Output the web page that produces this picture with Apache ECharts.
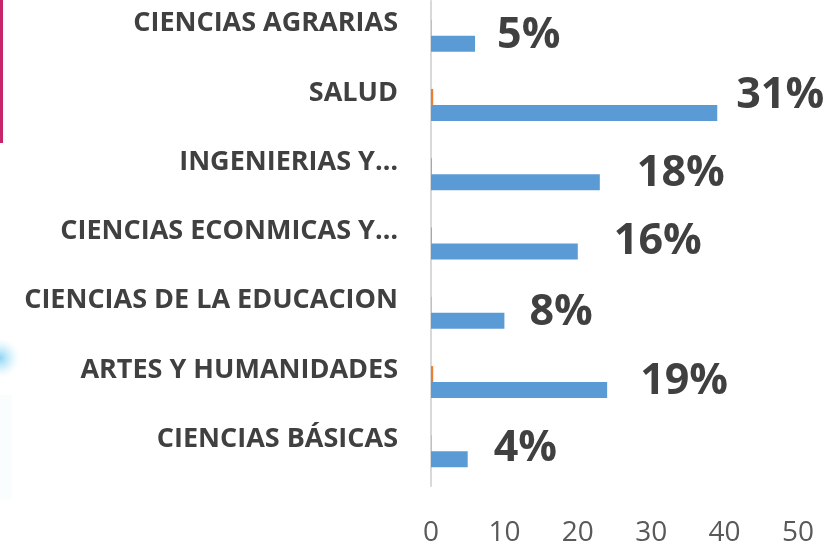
<!DOCTYPE html>
<html>
<head>
<meta charset="utf-8">
<script src="https://cdn.jsdelivr.net/npm/echarts@6/dist/echarts.min.js"></script>
<style>
html,body{margin:0;padding:0;background:#fff;}
#chart{width:838px;height:547px;}
</style>
</head>
<body>
<div id="chart"></div>
<script>
// ---- data ----
var categories = ['CIENCIAS AGRARIAS', 'SALUD', 'INGENIERIAS Y…', 'CIENCIAS ECONMICAS Y…', 'CIENCIAS DE LA EDUCACION', 'ARTES Y HUMANIDADES', 'CIENCIAS BÁSICAS'];
var blueValues = [6, 39, 23, 20, 10, 24, 5];
var orangeValues = [0.05, 0.3, 0.1, 0.1, 0.05, 0.3, 0.05];
var pctLabels = ['5%', '31%', '18%', '16%', '8%', '19%', '4%'];
var xTicks = [0, 10, 20, 30, 40, 50];

// ---- layout nudges for the percentage labels (px) ----
var labelGapX = [22, 19, 37, 36, 25, 33, 26];
var labelShiftY = [0, -9, 0, -2, 0, 0, -3];

var chart = echarts.init(document.getElementById('chart'), null, {renderer: 'canvas'});

var blueData = blueValues.map(function (v, i) {
  return {
    value: v,
    label: {
      show: true,
      position: 'right',
      distance: 0,
      offset: [labelGapX[i], labelShiftY[i] - 8],
      formatter: function () { return pctLabels[i]; }
    }
  };
});

var option = {
  animation: false,
  backgroundColor: '#ffffff',
  grid: {left: 431, right: 40, top: 1, bottom: 53, containLabel: false},
  xAxis: {
    type: 'value',
    min: xTicks[0],
    max: xTicks[xTicks.length - 1],
    interval: 10,
    axisLine: {show: false},
    axisTick: {show: false},
    splitLine: {show: false},
    axisLabel: {
      margin: 33,
      fontSize: 28,
      color: '#595959',
      fontFamily: 'Open Sans'
    }
  },
  yAxis: {
    type: 'category',
    inverse: true,
    data: categories,
    axisLine: {show: true, lineStyle: {color: '#D9D9D9', width: 2}},
    axisTick: {show: false},
    axisLabel: {
      margin: 33,
      fontSize: 27,
      fontWeight: 'bold',
      color: '#404040',
      fontFamily: 'Open Sans',
      verticalAlign: 'bottom',
      lineHeight: 24
    }
  },
  graphic: [
    {type: 'rect', shape: {x: 0, y: 0, width: 3, height: 143}, style: {fill: '#C8246C'}, z: 10},
    {type: 'ellipse', shape: {cx: 0, cy: 358, rx: 20, ry: 40},
     style: {fill: {type: 'radial', x: 0.5, y: 0.5, r: 0.5,
       colorStops: [{offset: 0, color: 'rgba(110,200,240,0.8)'}, {offset: 0.5, color: 'rgba(160,222,246,0.45)'}, {offset: 1, color: 'rgba(215,242,252,0)'}]}}, z: 10},
    {type: 'rect', shape: {x: 0, y: 395, width: 12, height: 105},
     style: {fill: 'rgba(235,247,252,0.25)'}, z: 9}
  ],
  series: [
    {
      name: 'S2',
      type: 'bar',
      data: orangeValues,
      barWidth: 16,
      barGap: '0%',
      itemStyle: {color: '#ED7D31'}
    },
    {
      name: 'S1',
      type: 'bar',
      data: blueData,
      barWidth: 16,
      barGap: '0%',
      itemStyle: {color: '#5B9BD5'},
      label: {
        fontSize: 43,
        fontWeight: 'bold',
        color: '#404040',
        fontFamily: 'Open Sans'
      }
    }
  ]
};
chart.setOption(option);
</script>
</body>
</html>
